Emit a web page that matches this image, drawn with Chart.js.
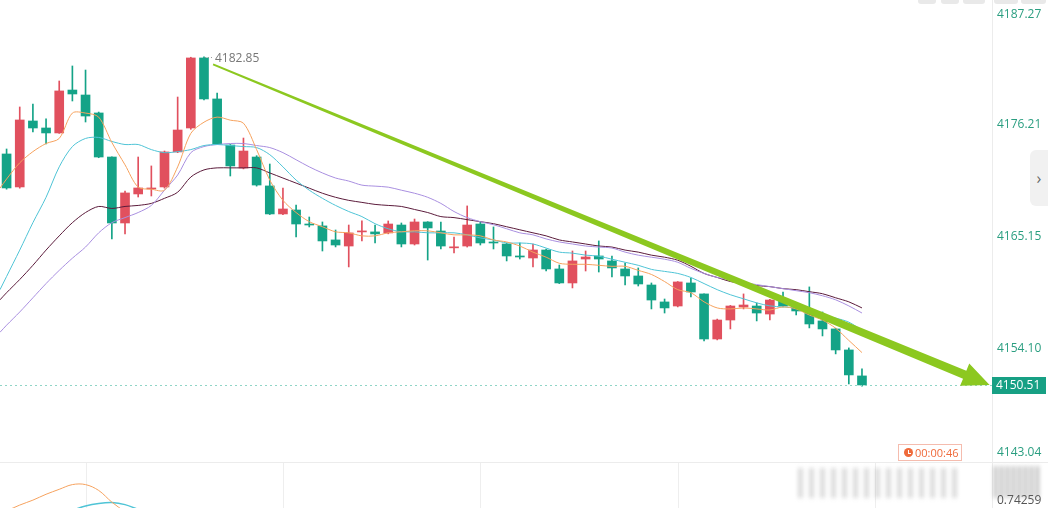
<!DOCTYPE html>
<html>
<head>
<meta charset="utf-8">
<script src="https://cdn.jsdelivr.net/npm/chart.js@4.4.1/dist/chart.umd.min.js"></script>
<style>
  html, body { margin: 0; padding: 0; background: #fff; overflow: hidden; }
  #wrap { position: relative; width: 1048px; height: 508px; font-family: "Open Sans", sans-serif; }
  #mainChart { position: absolute; left: 0; top: 0; }
  #subChart { position: absolute; left: 0; top: 463px; }
  #sep { position: absolute; left: 0; top: 462px; width: 1048px; height: 1px; background: #ececec; }
  .tool { position: absolute; top: 0; height: 4px; background: #e9e9e9; border-radius: 0 0 3px 3px; }
  #tab { position: absolute; left: 1030px; top: 150px; width: 18px; height: 56px; background: #f1f1f1;
         border-radius: 6px 0 0 6px; color: #666; font-size: 16px; line-height: 56px; text-align: center; }
  #timer { position: absolute; left: 898px; top: 444px; width: 62px; height: 15px; border: 1px solid #f5bcae;
           color: #ef6a3b; font-size: 11px; line-height: 15px; box-sizing: content-box; }
  #timer .ico { position: absolute; left: 5px; top: 3px; width: 9px; height: 9px; border-radius: 50%; background: #ef6a3b; }
  #timer .ico:after { content: ""; position: absolute; left: 4px; top: 2px; width: 2px; height: 3px;
                      border-left: 1px solid #fff; border-bottom: 1px solid #fff; }
  #timer .txt { position: absolute; left: 16px; top: 0; }
  .wm { position: absolute; filter: blur(2px); }
</style>
</head>
<body>
<div id="wrap">
  <canvas id="mainChart" width="1048" height="462"></canvas>
  <div id="sep"></div>
  <canvas id="subChart" width="1048" height="45"></canvas>
  <div class="wm" style="left:798px;top:468px;width:162px;height:30px;background:repeating-linear-gradient(90deg,rgba(150,150,150,0.35) 0 5px,rgba(255,255,255,0) 5px 11px);"></div>
  <div class="wm" style="left:994px;top:466px;width:46px;height:32px;background:repeating-linear-gradient(90deg,rgba(110,110,110,0.5) 0 3px,rgba(255,255,255,0) 3px 6px);"></div>
  <div class="tool" style="left:918px;width:18px"></div>
  <div class="tool" style="left:941px;width:18px"></div>
  <div class="tool" style="left:963px;width:22px"></div>
  <div class="tool" style="left:994px;width:24px"></div>
  <div class="tool" style="left:1021px;width:25px"></div>
  <div id="tab">&#8250;</div>
  <div id="timer"><span class="ico"></span><span class="txt">00:00:46</span></div>
</div>
<script>
// ---- candle data (1-minute bars, left to right) ----
const opens = [4173.27, 4170.02, 4176.52, 4175.83, 4175.34, 4179.57, 4179.08, 4177.31, 4172.97, 4166.47,
  4169.33, 4169.82, 4170.02, 4173.47, 4175.83, 4182.73, 4178.69, 4174.15, 4171.89, 4172.97,
  4170.12, 4167.36, 4167.75, 4166.37, 4166.18, 4164.80, 4164.20, 4165.59, 4165.59, 4165.49,
  4166.27, 4164.40, 4166.57, 4165.68, 4164.02, 4164.20, 4166.37, 4164.60, 4164.40, 4163.22,
  4163.02, 4163.81, 4161.94, 4160.56, 4162.92, 4163.22, 4162.73, 4161.94, 4161.25, 4160.36,
  4158.69, 4158.29, 4160.56, 4159.48, 4155.04, 4156.91, 4158.19, 4158.29, 4157.50, 4158.98,
  4158.10, 4157.90, 4156.82, 4156.03, 4153.96, 4151.40];
const highs = [4173.76, 4177.90, 4178.19, 4176.72, 4180.46, 4181.94, 4181.54, 4177.40, 4173.00, 4169.62,
  4172.97, 4172.09, 4173.56, 4178.88, 4182.80, 4182.85, 4179.28, 4174.20, 4174.84, 4173.10,
  4172.28, 4169.92, 4168.24, 4167.06, 4166.57, 4165.78, 4166.27, 4166.67, 4166.27, 4166.67,
  4166.47, 4166.86, 4166.60, 4166.57, 4165.09, 4168.15, 4166.57, 4166.08, 4164.50, 4164.50,
  4164.40, 4163.90, 4162.33, 4163.71, 4163.71, 4164.70, 4163.22, 4162.53, 4162.04, 4160.56,
  4158.98, 4160.70, 4161.05, 4159.50, 4157.00, 4158.35, 4159.48, 4158.59, 4158.95, 4159.67,
  4158.20, 4160.17, 4157.70, 4156.10, 4154.16, 4152.09];
const lows = [4169.80, 4169.90, 4175.44, 4174.25, 4175.30, 4178.49, 4176.42, 4172.90, 4164.89, 4165.39,
  4169.03, 4169.13, 4169.90, 4173.40, 4175.70, 4178.60, 4174.20, 4171.10, 4171.80, 4170.10,
  4167.30, 4167.30, 4165.09, 4166.08, 4163.71, 4164.11, 4162.14, 4164.70, 4164.50, 4165.40,
  4164.11, 4164.30, 4162.82, 4163.91, 4163.51, 4164.10, 4164.30, 4163.91, 4162.73, 4162.92,
  4162.14, 4161.74, 4160.50, 4160.07, 4161.74, 4161.64, 4161.15, 4160.36, 4160.26, 4158.00,
  4157.60, 4158.20, 4159.18, 4154.85, 4154.95, 4156.03, 4158.00, 4156.82, 4156.91, 4158.20,
  4157.41, 4156.13, 4155.34, 4153.57, 4150.61, 4150.40];
const closes = [4169.92, 4176.62, 4175.83, 4175.34, 4179.48, 4179.18, 4177.01, 4172.97, 4166.47, 4169.43,
  4169.92, 4169.92, 4173.47, 4175.63, 4182.73, 4178.69, 4174.25, 4172.09, 4173.56, 4170.21,
  4167.36, 4167.85, 4166.37, 4166.27, 4164.70, 4164.30, 4165.49, 4165.68, 4165.39, 4166.37,
  4164.40, 4166.57, 4165.98, 4164.20, 4164.12, 4166.27, 4164.50, 4164.50, 4163.22, 4163.12,
  4163.81, 4161.94, 4160.56, 4162.73, 4163.12, 4162.92, 4162.04, 4161.25, 4160.46, 4158.88,
  4158.10, 4160.66, 4159.67, 4155.04, 4156.91, 4158.29, 4158.39, 4157.60, 4158.88, 4158.29,
  4157.80, 4156.52, 4156.03, 4153.96, 4151.50, 4150.51];

// ---- moving averages, first value sits on the left edge ----
const ma5 = [4169.9, 4170.8, 4172.4, 4173.5, 4174.3, 4174.8, 4177.3, 4177.3, 4176.9, 4174.4, 4172.2,
  4170.0, 4169.8, 4169.7, 4172.0, 4175.3, 4176.4, 4176.9, 4176.6, 4176.3, 4173.7,
  4170.7, 4168.7, 4167.5, 4166.6, 4166.1, 4165.6, 4165.5, 4165.2, 4165.2, 4165.5,
  4165.6, 4165.7, 4165.7, 4165.5, 4165.3, 4165.3, 4165.2, 4164.8, 4164.6, 4164.2,
  4163.6, 4163.1, 4162.5, 4162.4, 4162.4, 4162.3, 4162.2, 4162.2, 4161.8, 4161.4,
  4160.7, 4159.9, 4159.6, 4158.7, 4158.1, 4158.0, 4158.1, 4158.0, 4157.9, 4158.2,
  4158.0, 4157.4, 4156.9, 4156.1, 4154.9, 4153.7];
const ma10 = [4159.9, 4161.2, 4163.8, 4166.5, 4169.0, 4172.0, 4174.0, 4174.8, 4174.9, 4174.5, 4174.2,
  4174.2, 4173.7, 4173.4, 4173.5, 4173.7, 4174.1, 4174.2, 4174.1, 4174.0, 4173.9,
  4173.2, 4172.0, 4170.7, 4169.7, 4168.9, 4168.2, 4167.6, 4167.1, 4166.4, 4165.9,
  4165.6, 4165.6, 4165.5, 4165.5, 4165.5, 4165.3, 4165.0, 4164.8, 4164.5, 4164.5,
  4164.4, 4164.0, 4163.6, 4163.5, 4163.3, 4163.2, 4162.9, 4162.6, 4162.3, 4161.9,
  4161.7, 4161.5, 4161.1, 4160.5, 4159.9, 4159.4, 4159.0, 4158.6, 4158.3, 4158.2,
  4158.1, 4157.8, 4157.4, 4157.1, 4156.7, 4155.9];
const ma20 = [4155.7, 4156.4, 4157.7, 4159.1, 4160.5, 4161.8, 4163.0, 4164.1, 4165.5, 4166.5, 4167.0,
  4167.5, 4168.2, 4169.7, 4171.2, 4173.4, 4174.0, 4174.2, 4174.3, 4174.3, 4174.1,
  4173.9, 4173.4, 4172.7, 4172.0, 4171.4, 4170.9, 4170.6, 4170.2, 4170.1, 4170.0,
  4169.7, 4169.4, 4169.0, 4168.4, 4167.6, 4167.0, 4166.6, 4166.3, 4165.9, 4165.5,
  4165.3, 4164.9, 4164.6, 4164.4, 4164.2, 4164.1, 4164.0, 4163.6, 4163.3, 4163.1,
  4162.9, 4162.6, 4162.0, 4161.5, 4161.1, 4160.9, 4160.6, 4160.4, 4160.2, 4160.0,
  4159.8, 4159.6, 4159.3, 4158.9, 4158.3, 4157.6];
const ma30 = [4158.9, 4159.6, 4160.9, 4162.3, 4163.8, 4165.2, 4166.5, 4167.5, 4168.1, 4167.9, 4168.1,
  4168.2, 4168.4, 4168.9, 4169.5, 4171.0, 4171.7, 4171.9, 4171.9, 4171.9, 4171.9,
  4171.4, 4170.9, 4170.4, 4169.9, 4169.4, 4169.0, 4168.7, 4168.5, 4168.3, 4168.2,
  4168.1, 4167.8, 4167.5, 4167.1, 4167.0, 4166.8, 4166.6, 4166.4, 4166.1, 4165.8,
  4165.5, 4165.2, 4164.8, 4164.6, 4164.4, 4164.2, 4164.1, 4163.8, 4163.6, 4163.3,
  4163.1, 4162.8, 4162.2, 4161.5, 4161.1, 4160.7, 4160.5, 4160.3, 4160.2, 4160.0,
  4159.9, 4159.7, 4159.5, 4159.1, 4158.7, 4158.1];

// ---- lower pane indicator (only the top of it is visible) ----
const subFast = [0.687, 0.713, 0.735, 0.761, 0.783, 0.804, 0.804, 0.778, 0.726, 0.683];
const subSlow = [null, null, null, null, null, 0.690, 0.709, 0.720, 0.724, 0.715, 0.694];
const subLabel = 0.74259;

// ---- axis labels / annotations ----
const priceTicks = [4187.27, 4176.21, 4165.15, 4154.10, 4143.04];
const trendLine = [[15.69, 4182.1], [74.7, 4150.51]];
const gridIdx = [6, 21, 36, 51, 66];

const RED = "#e1505e";
const GREEN = "#14a387";
const idx = opens.map((_, i) => i);
const maX = [-0.5].concat(idx);
const pts = arr => arr.map((v, i) => ({ x: maX[i], y: v }));
const candleColor = c => (closes[c.dataIndex] >= opens[c.dataIndex] ? RED : GREEN);
const lastPrice = closes[closes.length - 1];

function drawArrow(ctx, x0, y0, x1, y1) {
  const dx = x1 - x0, dy = y1 - y0, len = Math.hypot(dx, dy);
  const ux = dx / len, uy = dy / len, nx = -uy, ny = ux;
  const headLen = 27, headW = 12, w0 = 0.9, w1 = 4.3;
  const bx = x1 - ux * headLen, by = y1 - uy * headLen;
  ctx.beginPath();
  ctx.moveTo(x0 + nx * w0, y0 + ny * w0);
  ctx.lineTo(bx + nx * w1, by + ny * w1);
  ctx.lineTo(bx + nx * headW, by + ny * headW);
  ctx.lineTo(x1, y1);
  ctx.lineTo(bx - nx * headW, by - ny * headW);
  ctx.lineTo(bx - nx * w1, by - ny * w1);
  ctx.lineTo(x0 - nx * w0, y0 - ny * w0);
  ctx.closePath();
  ctx.fill();
}

// Overlay: price axis, last price line + tag, high marker, trend arrow
const overlay = {
  id: "overlay",
  afterDraw(chart) {
    const { ctx, chartArea, scales: { x, y } } = chart;
    ctx.save();
    // axis border
    ctx.strokeStyle = "#ececec";
    ctx.lineWidth = 1;
    ctx.beginPath();
    ctx.moveTo(chartArea.right + 0.5, 0);
    ctx.lineTo(chartArea.right + 0.5, chart.height);
    ctx.stroke();

    // tick labels
    ctx.font = "12px 'Open Sans', sans-serif";
    ctx.textBaseline = "middle";
    ctx.fillStyle = "#2a9e80";
    priceTicks.forEach(v => {
      const py = Math.min(Math.max(y.getPixelForValue(v), 15), 453);
      ctx.fillText(v.toFixed(2), chartArea.right + 5, py);
    });

    // last price dotted line
    const py = Math.round(y.getPixelForValue(lastPrice)) + 0.5;
    ctx.strokeStyle = "#8fd5c6";
    ctx.setLineDash([2, 3]);
    ctx.beginPath();
    ctx.moveTo(chartArea.left, py);
    ctx.lineTo(chartArea.right, py);
    ctx.stroke();
    ctx.setLineDash([]);
    ctx.fillStyle = "#17a084";
    ctx.fillRect(chartArea.right, py - 8.5, 54, 17);
    ctx.fillStyle = "#fff";
    ctx.fillText(lastPrice.toFixed(2), chartArea.right + 4, py + 0.5);

    // high marker
    let hi = 0;
    highs.forEach((h, i) => { if (h > highs[hi]) hi = i; });
    const hx = x.getPixelForValue(hi), hy = y.getPixelForValue(highs[hi]);
    ctx.strokeStyle = "#999";
    ctx.setLineDash([1, 2]);
    ctx.beginPath();
    ctx.moveTo(hx + 1, Math.round(hy) + 0.5);
    ctx.lineTo(hx + 10, Math.round(hy) + 0.5);
    ctx.stroke();
    ctx.setLineDash([]);
    ctx.fillStyle = "#777";
    ctx.fillText(highs[hi].toFixed(2), hx + 11, hy + 2);

    // trend arrow
    ctx.fillStyle = "#8cc820";
    drawArrow(ctx,
      x.getPixelForValue(trendLine[0][0]), y.getPixelForValue(trendLine[0][1]),
      x.getPixelForValue(trendLine[1][0]), y.getPixelForValue(trendLine[1][1]));
    ctx.restore();
  }
};

new Chart(document.getElementById("mainChart"), {
  type: "bar",
  data: {
    datasets: [
      { type: "line", data: pts(ma5), borderColor: "#f6a25e", borderWidth: 1, pointRadius: 0, tension: 0.3, order: 0 },
      { type: "line", data: pts(ma10), borderColor: "#4fc4d6", borderWidth: 1, pointRadius: 0, tension: 0.3, order: 0 },
      { type: "line", data: pts(ma20), borderColor: "#a98fe0", borderWidth: 1, pointRadius: 0, tension: 0.3, order: 0 },
      { type: "line", data: pts(ma30), borderColor: "#5b1b3b", borderWidth: 1, pointRadius: 0, tension: 0.3, order: 0 },
      { data: idx.map(i => ({ x: i, y: [lows[i], highs[i]] })), backgroundColor: candleColor,
        barThickness: 1, grouped: false, order: 2 },
      { data: idx.map(i => ({ x: i, y: [opens[i], closes[i]] })), backgroundColor: candleColor,
        barThickness: 9, minBarLength: 1, grouped: false, order: 1 }
    ]
  },
  options: {
    responsive: false,
    animation: false,
    layout: { padding: { left: 0, right: 56, top: 0, bottom: 0 } },
    plugins: { legend: { display: false }, tooltip: { enabled: false } },
    scales: {
      x: { type: "linear", min: -0.5, max: 74.88, offset: false, display: false },
      y: { min: 4142.92, max: 4188.44, display: false }
    }
  },
  plugins: [overlay]
});

// lower pane
const subOverlay = {
  id: "subOverlay",
  beforeDatasetsDraw(chart) {
    const { ctx, chartArea, scales: { x } } = chart;
    ctx.save();
    ctx.strokeStyle = "#eeeeee";
    gridIdx.forEach(v => {
      const px = Math.round(x.getPixelForValue(v)) + 0.5;
      ctx.beginPath();
      ctx.moveTo(px, 0);
      ctx.lineTo(px, chart.height);
      ctx.stroke();
    });
    ctx.restore();
  },
  afterDraw(chart) {
    const { ctx, chartArea, scales: { y } } = chart;
    ctx.save();
    ctx.strokeStyle = "#ececec";
    ctx.beginPath();
    ctx.moveTo(chartArea.right + 0.5, 0);
    ctx.lineTo(chartArea.right + 0.5, chart.height);
    ctx.stroke();
    ctx.font = "12px 'Open Sans', sans-serif";
    ctx.textBaseline = "middle";
    ctx.fillStyle = "#555";
    ctx.fillText(subLabel.toFixed(5), chartArea.right + 5, y.getPixelForValue(subLabel) + 2);
    ctx.restore();
  }
};

new Chart(document.getElementById("subChart"), {
  type: "line",
  data: {
    datasets: [
      { data: subFast.map((v, i) => ({ x: i, y: v })), borderColor: "#f6a25e", borderWidth: 1, pointRadius: 0, tension: 0.35 },
      { data: subSlow.map((v, i) => ({ x: i, y: v })), borderColor: "#4fc4d6", borderWidth: 1.5, pointRadius: 0, tension: 0.35 }
    ]
  },
  options: {
    responsive: false,
    animation: false,
    layout: { padding: { left: 0, right: 56, top: 0, bottom: 0 } },
    plugins: { legend: { display: false }, tooltip: { enabled: false } },
    scales: {
      x: { type: "linear", min: -0.5, max: 74.88, display: false },
      y: { min: 0.7, max: 0.9, display: false }
    }
  },
  plugins: [subOverlay]
});
</script>
</body>
</html>
